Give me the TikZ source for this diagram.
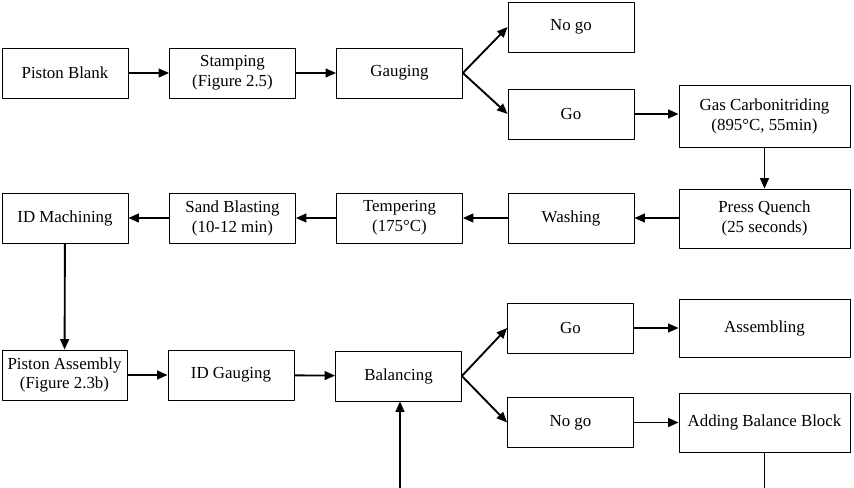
\documentclass[tikz,border=0pt]{standalone}
\usepackage{fontspec}
\setmainfont{Liberation Serif}
\usetikzlibrary{arrows.meta}

\begin{document}
\begin{tikzpicture}[
    x=0.03cm, y=-0.03cm,
    font=\fontsize{14.4}{17}\selectfont,
    line join=round,
    >={Triangle[length=9pt,width=7.5pt]}, % arrow tip style
    box/.style={draw, line width=0.65pt, align=center, inner sep=0pt,
                minimum width=126*0.03cm, minimum height=50*0.03cm},
    bigbox/.style={box, minimum width=171*0.03cm},
    flow/.style={->, line width=1.6pt}
]
\useasboundingbox (0,0) rectangle (854,488);

%-----------------------
% 1) FIRST ROW: BLANK TO GAUGING
%-----------------------
\node[box] (blank) at (65,73) {Piston Blank};
\node[box] (stamp) at (232.5,73) {Stamping\\(Figure 2.5)};
\node[box] (gauge) at (399.5,73) {Gauging};

\node[box] (nogoA) at (571,27) {No go};
\node[box] (goA)   at (571,114) {Go};
\node[bigbox, minimum height=62*0.03cm] (carbo) at (764.5,116)
    {Gas Carbonitriding\\(895\textdegree C, 55min)};

\draw[flow] (blank) -- (stamp);
\draw[flow] (stamp) -- (gauge);
\draw[flow] (gauge.east) -- (nogoA.west);
\draw[flow] (gauge.east) -- (goA.west);
\draw[flow] (goA.east) -- (goA.east -| carbo.west);

%-----------------------
% 2) SECOND ROW: QUENCH BACK TO MACHINING
%-----------------------
\node[bigbox, minimum height=59*0.03cm] (quench) at (764.5,218.5)
    {Press Quench\\(25 seconds)};
\node[box] (wash)  at (571,218) {Washing};
\node[box] (temper) at (399.5,218) {Tempering\\(175\textdegree C)};
\node[box] (sand)  at (232.5,218) {Sand Blasting\\(10-12 min)};
\node[box] (idmach) at (65,218) {ID Machining};

\draw[flow] (carbo) -- (quench);
\draw[flow] (quench.west |- wash) -- (wash);
\draw[flow] (wash) -- (temper);
\draw[flow] (temper) -- (sand);
\draw[flow] (sand) -- (idmach);

%-----------------------
% 3) THIRD ROW: ASSEMBLY AND BALANCING
%-----------------------
\node[box, minimum width=125*0.03cm] (assy) at (64.5,375)
    {Piston Assembly\\(Figure 2.3b)};
\node[box] (idgauge) at (231,375) {ID Gauging};
\node[box] (balance) at (398.5,376) {Balancing};

\node[box] (goB)   at (570.5,328) {Go};
\node[box] (nogoB) at (570.5,422.5) {No go};
\node[bigbox, minimum height=58*0.03cm] (assem) at (764.5,328) {Assembling};
\node[bigbox, minimum height=59*0.03cm] (block) at (764.5,422.5)
    {Adding Balance Block};

\draw[flow] (idmach) -- (assy);
\draw[flow] (assy) -- (idgauge);
\draw[flow] (idgauge) -- (balance);
\draw[flow] (balance.east) -- (goB.west);
\draw[flow] (balance.east) -- (nogoB.west);
\draw[flow] (goB) -- (goB -| assem.west);
\draw[flow] (nogoB) -- (nogoB -| block.west);

% return line, cut off at the lower edge
\coordinate (cutA) at (block.south |- 0,490);
\coordinate (cutB) at (400,490);
\draw[line width=1.6pt] (block.south) -- (cutA);
\draw[flow] (cutB) -- (cutB |- balance.south);

\end{tikzpicture}
\end{document}
